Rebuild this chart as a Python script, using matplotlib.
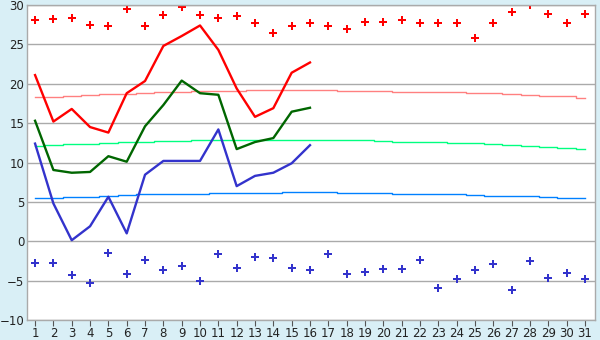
import matplotlib
matplotlib.use("Agg")
import matplotlib.pyplot as plt

days = list(range(1, 32))
record_max = [28.06, 28.2, 28.4, 27.5, 27.3, 29.45, 27.3, 28.7, 29.7, 28.7,
              28.4, 28.6, 27.7, 26.4, 27.3, 27.7, 27.3, 26.9, 27.8, 27.8,
              28.05, 27.7, 27.7, 27.7, 25.8, 27.7, 29.07, 29.96, 28.8, 27.7, 28.8]
record_min = [-2.8, -2.8, -4.3, -5.34, -1.53, -4.2, -2.42, -3.69, -3.18, -5.09,
              -1.66, -3.44, -2.04, -2.17, -3.44, -3.69, -1.66, -4.2, -3.94, -3.56,
              -3.56, -2.42, -5.98, -4.83, -3.69, -2.93, -6.23, -2.55, -4.7, -4.07, -4.83]
obs_days = list(range(1, 17))
tmax = [21.1, 15.2, 16.8, 14.5, 13.8, 18.8, 20.35, 24.8, 26.06, 27.4,
        24.3, 19.4, 15.8, 16.9, 21.4, 22.7]
tmean = [15.3, 9.05, 8.7, 8.8, 10.8, 10.1, 14.6, 17.3, 20.4, 18.8,
         18.6, 11.7, 12.6, 13.1, 16.45, 16.95]
tmin = [12.4, 4.8, 0.13, 1.9, 5.65, 1.0, 8.45, 10.2, 10.2, 10.2,
        14.2, 7.0, 8.3, 8.7, 9.9, 12.2]
norm_max = [18.3, 18.35, 18.45, 18.55, 18.65, 18.75, 18.85, 18.9, 18.95, 19.05,
            19.1, 19.1, 19.15, 19.15, 19.15, 19.15, 19.15, 19.1, 19.1, 19.05,
            19.0, 18.95, 18.9, 18.9, 18.85, 18.8, 18.7, 18.6, 18.5, 18.4, 18.2]
norm_mean = [12.13, 12.2, 12.3, 12.4, 12.5, 12.6, 12.65, 12.7, 12.78, 12.82,
             12.82, 12.82, 12.82, 12.82, 12.82, 12.82, 12.82, 12.82, 12.8, 12.75,
             12.65, 12.6, 12.56, 12.5, 12.43, 12.35, 12.2, 12.15, 12.0, 11.9, 11.75]
norm_min = [5.45, 5.5, 5.6, 5.65, 5.75, 5.85, 5.95, 5.96, 5.98, 6.0,
            6.1, 6.1, 6.1, 6.15, 6.2, 6.2, 6.2, 6.1, 6.1, 6.1,
            6.05, 5.96, 5.96, 5.96, 5.9, 5.8, 5.7, 5.7, 5.6, 5.55, 5.45]
yticks = [-10, -5, 0, 5, 10, 15, 20, 25, 30]

bg = "#d9eff6"
fig = plt.figure(figsize=(6, 3.4), dpi=100, facecolor=bg)
ax = fig.add_axes([27/600, 1-320/340, (595-27)/600, (320-5)/340])
ax.set_facecolor("white")

ax.set_xlim(0.56, 31.55)
ax.set_ylim(-10, 30)
ax.set_yticks(yticks)
ax.set_xticks(days)
ax.grid(axis="y", color="#aaaaaa", linewidth=1.0)
ax.set_axisbelow(True)
for s in ax.spines.values():
    s.set_color("#aaaaaa")
    s.set_linewidth(1.0)

ax.plot(days, norm_max, color="#ff8080", lw=1.0, drawstyle="steps-mid")
ax.plot(days, norm_mean, color="#00ff80", lw=1.0, drawstyle="steps-mid")
ax.plot(days, norm_min, color="#0080ff", lw=1.0, drawstyle="steps-mid")

ax.plot(obs_days, tmax, color="#ff0000", lw=1.7)
ax.plot(obs_days, tmean, color="#006600", lw=1.7)
ax.plot(obs_days, tmin, color="#3333cc", lw=1.7)

ax.plot(days, record_max, ls="none", marker="P", ms=5.5, color="#ff0000", mew=0)
ax.plot(days, record_min, ls="none", marker="P", ms=5.5, color="#3333cc", mew=0)

ax.tick_params(axis="y", length=0, labelsize=8.5, pad=2)
ax.tick_params(axis="x", length=4, color="#555555", labelsize=8.5, pad=1)
for lbl in ax.get_xticklabels() + ax.get_yticklabels():
    lbl.set_color("#222222")

fig.savefig("out.png", dpi=100, facecolor=bg)
